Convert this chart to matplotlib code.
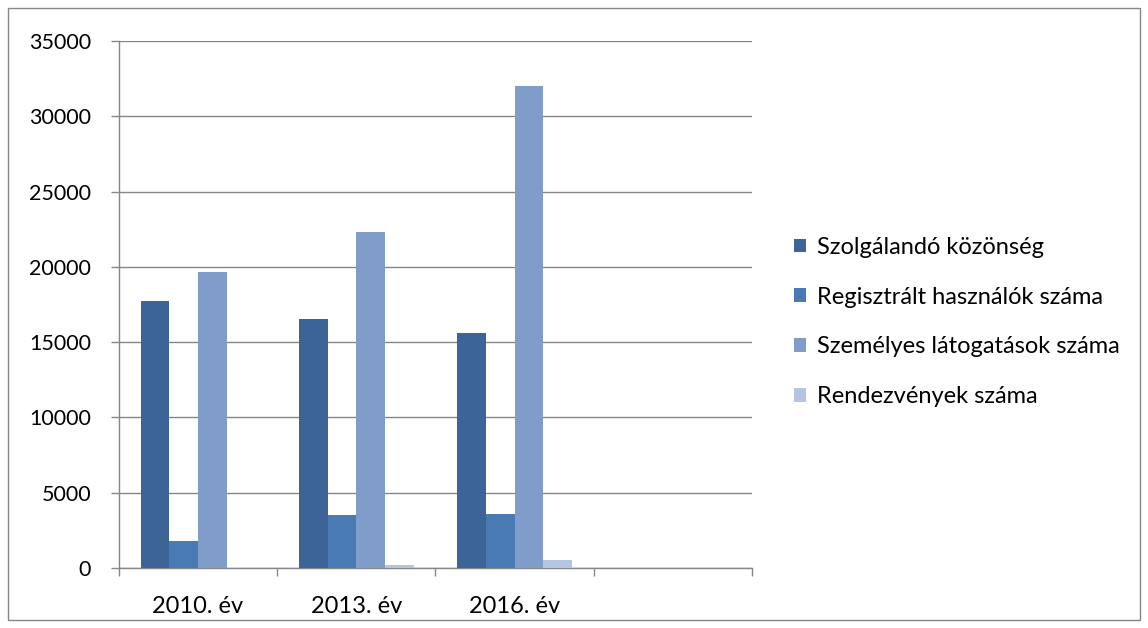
import matplotlib.pyplot as plt
import numpy as np
from matplotlib.patches import Rectangle

plt.rcParams['font.family'] = ['Lato', 'DejaVu Sans']

categories = ["2010. év", "2013. év", "2016. év", ""]
series_names = ["Szolgálandó közönség", "Regisztrált használók száma",
                "Személyes látogatások száma", "Rendezvények száma"]
szolgalando = [17730, 16530, 15630, 0]
regisztralt = [1800, 3500, 3600, 0]
szemelyes = [19650, 22330, 32000, 0]
rendezvenyek = [0, 220, 510, 0]
colors = ["#3D6496", "#4A7AB3", "#7F9DC8", "#B3C5E0"]

values = [szolgalando, regisztralt, szemelyes, rendezvenyek]

fig = plt.figure(figsize=(11.48, 6.28), dpi=100)
ax = fig.add_axes([119 / 1148, 1 - 568 / 628, (752 - 119) / 1148, (568 - 41) / 628])

# Excel-like clustered bars: gap width 150%
n = len(values)
bw = 1 / (n + 1.5)
x = np.arange(len(categories)) + 0.5
for i, (vals, name, c) in enumerate(zip(values, series_names, colors)):
    ax.bar(x - 0.5 + 0.75 * bw + i * bw, vals, width=bw, align="edge",
           color=c, label=name, zorder=3, edgecolor="none")

ax.set_xlim(0, len(categories))
ax.set_ylim(0, 35000)
ax.set_yticks(np.arange(0, 35001, 5000))
ax.set_xticks(np.arange(0, len(categories) + 1))
ax.set_xticklabels([])
ax.set_xticks(x, minor=True)
ax.set_xticklabels(categories, minor=True)
ax.tick_params(axis="x", which="minor", length=0, pad=20, labelsize=17)
ax.tick_params(axis="x", which="major", length=6, color="#868686", width=1)
ax.tick_params(axis="y", length=6, color="#868686", width=1, pad=14, labelsize=15.5)

ax.grid(axis="y", color="#868686", linewidth=1, zorder=0)
for s in ["top", "right"]:
    ax.spines[s].set_visible(False)
for s in ["left", "bottom"]:
    ax.spines[s].set_color("#868686")
    ax.spines[s].set_linewidth(1)

fig.legend(loc="center left", bbox_to_anchor=(773 / 1148, 1 - 322 / 628),
           frameon=False, fontsize=17, handlelength=0.5, handleheight=0.5,
           labelspacing=1.22, handletextpad=0.45)

fig.patches.append(Rectangle((8 / 1148, 8 / 628), 1132 / 1148, 612 / 628,
                             transform=fig.transFigure, fill=False,
                             edgecolor="#868686", linewidth=1))

fig.savefig("out.png", dpi=100)
